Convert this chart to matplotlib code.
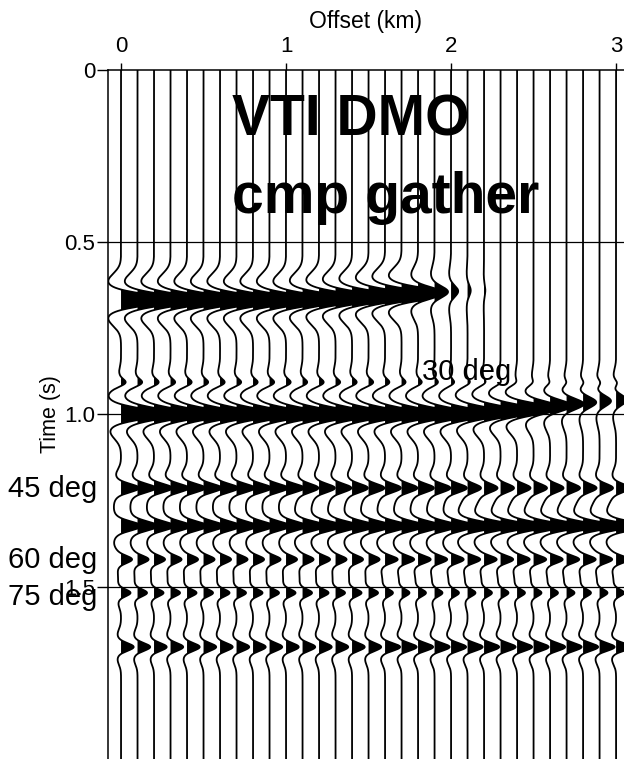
import numpy as np
import matplotlib
matplotlib.use("Agg")
import matplotlib.pyplot as plt

plt.rcParams['font.family'] = ['Liberation Sans', 'DejaVu Sans']

# offsets of the traces (km)
offsets = [0.0, 0.1, 0.2, 0.3, 0.4, 0.5, 0.6, 0.7, 0.8, 0.9, 1.0,
           1.1, 1.2, 1.3, 1.4, 1.5, 1.6, 1.7, 1.8, 1.9, 2.0,
           2.1, 2.2, 2.3, 2.4, 2.5, 2.6, 2.7, 2.8, 2.9, 3.0]

# events: arrival time (s) and peak amplitude (in trace spacings) per trace
evA_time = [0.668] * 11 + [0.666, 0.664, 0.662, 0.660, 0.657, 0.654, 0.651, 0.648,
                           0.645, 0.643, 0.641, 0.640] + [0.640] * 8
evA_amp = [3.0] * 18 + [1.6, 0.85, 0.45, 0.2, 0.08] + [0.0] * 8

evB_time = [0.909] * 31
evB_amp = [0.42] * 16 + [0.4, 0.38, 0.36, 0.34, 0.32, 0.30, 0.28, 0.26, 0.25] + [0.24] * 6

evC_time = [0.999] * 21 + [0.996, 0.993, 0.989, 0.985, 0.980, 0.975, 0.970, 0.965,
                           0.961, 0.958]
evC_amp = [2.5] * 25 + [1.8, 1.4, 1.1, 0.85, 0.75, 0.7]

evD_time = [1.214] * 31
evD_amp = [1.15] * 11 + [1.0] * 10 + [0.85] * 10

evE_time = [1.324] * 31
evE_amp = [1.3] * 11 + [1.5] * 10 + [1.9] * 10

evF_time = [1.421] * 31
evF_amp = [0.7] * 16 + [0.8] * 15

evG_time = [1.518] * 31
evG_amp = [0.6] * 16 + [0.5] * 15

evH_time = [1.675] * 31
evH_amp = [0.8] * 16 + [0.95] * 15

events = [
    (evA_time, evA_amp, 0.022),
    (evB_time, evB_amp, 0.014),
    (evC_time, evC_amp, 0.021),
    (evD_time, evD_amp, 0.016),
    (evE_time, evE_amp, 0.017),
    (evF_time, evF_amp, 0.014),
    (evG_time, evG_amp, 0.013),
    (evH_time, evH_amp, 0.015),
]

labels_left = [("45 deg", 1.240), ("60 deg", 1.446), ("75 deg", 1.553)]


def wavelet(tt, width):
    # zero-phase pulse with two broad negative side lobes
    main = np.exp(-(tt / width) ** 2)
    side = (np.exp(-((tt - 2.4 * width) / (1.5 * width)) ** 2)
            + np.exp(-((tt + 2.4 * width) / (1.5 * width)) ** 2))
    return main - 0.26 * side


t = np.arange(0.0, 2.0005, 0.001)
spacing = 0.1
clip = 1.05

fig = plt.figure(figsize=(6.24, 7.59), dpi=100)
ax = fig.add_axes([107.5 / 624, 0.0, 1 - 107.5 / 624, (759 - 69.5) / 759])

for i, off in enumerate(offsets):
    w = np.zeros_like(t)
    for times, amps, width in events:
        if amps[i] > 0:
            w += amps[i] * wavelet(t - times[i], width)
    w = np.clip(w, -clip, clip) * spacing
    x = off + w
    ax.fill_betweenx(t, off, x, where=w > 0, color='k', lw=0, interpolate=True)
    ax.plot(x, t, color='k', lw=1.3)

for yy in [0.5, 1.0, 1.5]:
    ax.axhline(yy, color='k', lw=0.9)

ax.set_xlim(-0.082, 3.048)
ax.set_ylim(2.0, 0.0)

ax.xaxis.tick_top()
ax.xaxis.set_label_position('top')
ax.set_xticks([0, 1, 2, 3])
ax.set_xticklabels(['0', '1', '2', '3'])
ax.set_yticks([0, 0.5, 1.0, 1.5])
ax.set_yticklabels(['0', '0.5', '1.0', '1.5'])
ax.tick_params(axis='x', direction='out', length=5, width=1, pad=4, labelsize=16)
ax.tick_params(axis='y', direction='out', length=8, width=1, pad=1, labelsize=16)
ax.set_xlabel("Offset (km)", fontsize=16.5, labelpad=6)
ax.set_ylabel("Time (s)", fontsize=15.5, labelpad=2)

for s in ['right', 'bottom']:
    ax.spines[s].set_visible(False)
for s in ['top', 'left']:
    ax.spines[s].set_linewidth(1.1)

ax.text(0.673, 0.190, "VTI DMO", fontsize=41, fontweight='bold', ha='left', va='baseline')
ax.text(0.673, 0.416, "cmp gather", fontsize=41, fontweight='bold', ha='left', va='baseline')
ax.text(1.824, 0.900, "30 deg", fontsize=21, ha='left', va='baseline')
for txt, yy in labels_left:
    ax.text(-0.145, yy, txt, fontsize=21, ha='right', va='baseline', clip_on=False)

fig.savefig("out.png", dpi=100)
